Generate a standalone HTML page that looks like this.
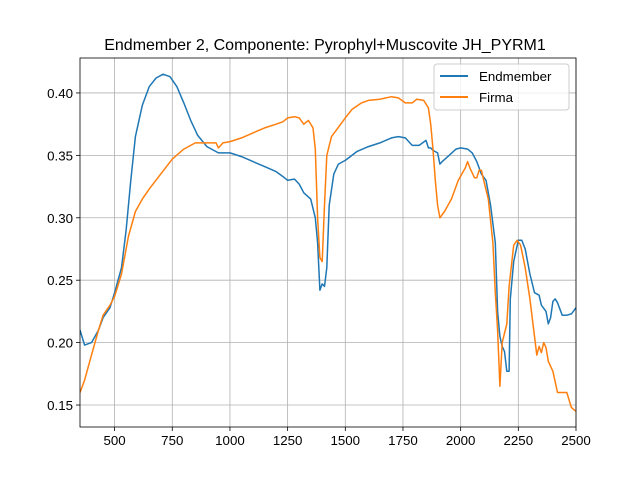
<!DOCTYPE html>
<html><head><meta charset="utf-8"><style>body{margin:0;background:#fff}svg{display:block;font-family:"Liberation Sans","DejaVu Sans",sans-serif}</style></head>
<body>
<svg id="chart" width="640" height="480">
<rect width="640" height="480" fill="#fff"/>
<text x="325" y="50" text-anchor="middle" font-size="16">Endmember 2, Componente: Pyrophyl+Muscovite JH_PYRM1</text>
<g id="grid"></g><g id="series"></g><g id="axes"></g>
<g>
<rect x="434" y="64" width="135" height="46" fill="#fff" fill-opacity="0.8" stroke="#ccc" rx="3"/>
<line x1="440" y1="76" x2="468" y2="76" stroke="#1f77b4" stroke-width="2"/>
<text x="479" y="81" font-size="13.3">Endmember</text>
<line x1="440" y1="97" x2="468" y2="97" stroke="#ff7f0e" stroke-width="2"/>
<text x="479" y="102" font-size="13.3">Firma</text>
</g>
</svg>
<script>
const xTicks=[500,750,1000,1250,1500,1750,2000,2250,2500];
const yTicks=[0.15,0.20,0.25,0.30,0.35,0.40];
const endX=[350,370,400,430,450,480,500,530,550,570,590,620,650,680,710,740,770,800,830,860,900,950,1000,1050,1100,1150,1200,1230,1250,1280,1300,1320,1350,1370,1380,1390,1400,1410,1420,1430,1450,1470,1500,1550,1600,1650,1700,1730,1760,1790,1820,1850,1860,1870,1880,1900,1910,1920,1950,1980,2000,2030,2050,2070,2090,2110,2130,2150,2160,2170,2180,2190,2200,2210,2215,2230,2250,2265,2280,2300,2320,2340,2350,2370,2380,2390,2400,2410,2420,2440,2460,2480,2500];
const endY=[0.21,0.198,0.2,0.21,0.22,0.228,0.24,0.26,0.29,0.33,0.365,0.39,0.405,0.412,0.415,0.413,0.405,0.392,0.378,0.366,0.357,0.352,0.352,0.349,0.345,0.341,0.337,0.333,0.33,0.331,0.327,0.32,0.315,0.3,0.28,0.242,0.247,0.245,0.26,0.31,0.335,0.343,0.346,0.353,0.357,0.36,0.364,0.365,0.364,0.358,0.358,0.362,0.356,0.356,0.354,0.352,0.343,0.345,0.35,0.355,0.356,0.355,0.352,0.345,0.335,0.33,0.31,0.28,0.225,0.205,0.197,0.193,0.177,0.177,0.235,0.265,0.282,0.282,0.275,0.255,0.24,0.238,0.23,0.225,0.215,0.22,0.233,0.235,0.232,0.222,0.222,0.223,0.228];
const firX=[350,370,400,430,450,480,500,530,560,590,620,650,700,750,800,850,900,940,950,970,1000,1050,1100,1150,1200,1230,1250,1280,1300,1320,1340,1360,1370,1380,1390,1400,1410,1420,1440,1460,1500,1530,1570,1600,1650,1700,1730,1760,1790,1810,1840,1860,1870,1880,1890,1900,1910,1930,1960,1990,2020,2030,2040,2060,2070,2080,2090,2100,2120,2140,2150,2160,2170,2180,2200,2210,2230,2245,2260,2280,2300,2320,2330,2340,2350,2360,2370,2380,2400,2420,2460,2480,2500];
const firY=[0.16,0.17,0.19,0.21,0.222,0.23,0.237,0.255,0.285,0.305,0.315,0.323,0.335,0.347,0.355,0.36,0.36,0.36,0.356,0.36,0.361,0.364,0.368,0.372,0.375,0.377,0.38,0.381,0.38,0.375,0.378,0.372,0.355,0.3,0.268,0.265,0.31,0.35,0.365,0.37,0.38,0.387,0.392,0.394,0.395,0.397,0.396,0.392,0.392,0.395,0.394,0.388,0.375,0.355,0.33,0.31,0.3,0.305,0.315,0.33,0.34,0.345,0.34,0.332,0.332,0.338,0.338,0.33,0.315,0.28,0.24,0.21,0.165,0.2,0.215,0.245,0.278,0.282,0.278,0.26,0.235,0.205,0.19,0.197,0.192,0.2,0.196,0.185,0.177,0.16,0.16,0.148,0.145];
const L=80,R=576,T=58,B=427,X0=350,X1=2500,Y0=0.1324,Y1=0.428;
const sx=v=>L+(v-X0)/(X1-X0)*(R-L);
const sy=v=>B-(v-Y0)/(Y1-Y0)*(B-T);
const NS="http://www.w3.org/2000/svg";
function mk(tag,attrs,parent){const e=document.createElementNS(NS,tag);for(const k in attrs)e.setAttribute(k,attrs[k]);parent.appendChild(e);return e;}
const grid=document.getElementById('grid'),axes=document.getElementById('axes'),series=document.getElementById('series');
xTicks.forEach(t=>{const x=sx(t);
 const g=mk('line',{x1:x,x2:x,y1:T,y2:B,stroke:'#b0b0b0','stroke-width':0.8},grid);
 
 
 mk('line',{x1:x,x2:x,y1:B,y2:B+4,stroke:'#000','stroke-width':0.8},axes);
 const tx=mk('text',{x:x,y:B+18,'text-anchor':'middle','font-size':13.3},axes);tx.textContent=t;
 
 });
yTicks.forEach(t=>{const y=sy(t);
 const g=mk('line',{x1:L,x2:R,y1:y,y2:y,stroke:'#b0b0b0','stroke-width':0.8},grid);
 
 
 mk('line',{x1:L-4,x2:L,y1:y,y2:y,stroke:'#000','stroke-width':0.8},axes);
 const tx=mk('text',{x:L-7,y:y+5,'text-anchor':'end','font-size':13.3},axes);tx.textContent=t.toFixed(2);
 
 });
const fr=mk('rect',{x:L,y:T,width:R-L,height:B-T,fill:'none',stroke:'#000','stroke-width':0.8},axes);


const cp=mk('clipPath',{id:'cp'},series);mk('rect',{x:L,y:T,width:R-L,height:B-T},cp);
function line(xs,ys,c,name){const d=xs.map((v,i)=>(i?'L':'M')+sx(v).toFixed(1)+','+sy(ys[i]).toFixed(1)).join('');
 const p=mk('path',{d:d,fill:'none',stroke:c,'stroke-width':1.5,'clip-path':'url(#cp)','stroke-linejoin':'round'},series);
 
 }
line(endX,endY,'#1f77b4','endmember-line');
line(firX,firY,'#ff7f0e','firma-line');
</script>
</body></html>
